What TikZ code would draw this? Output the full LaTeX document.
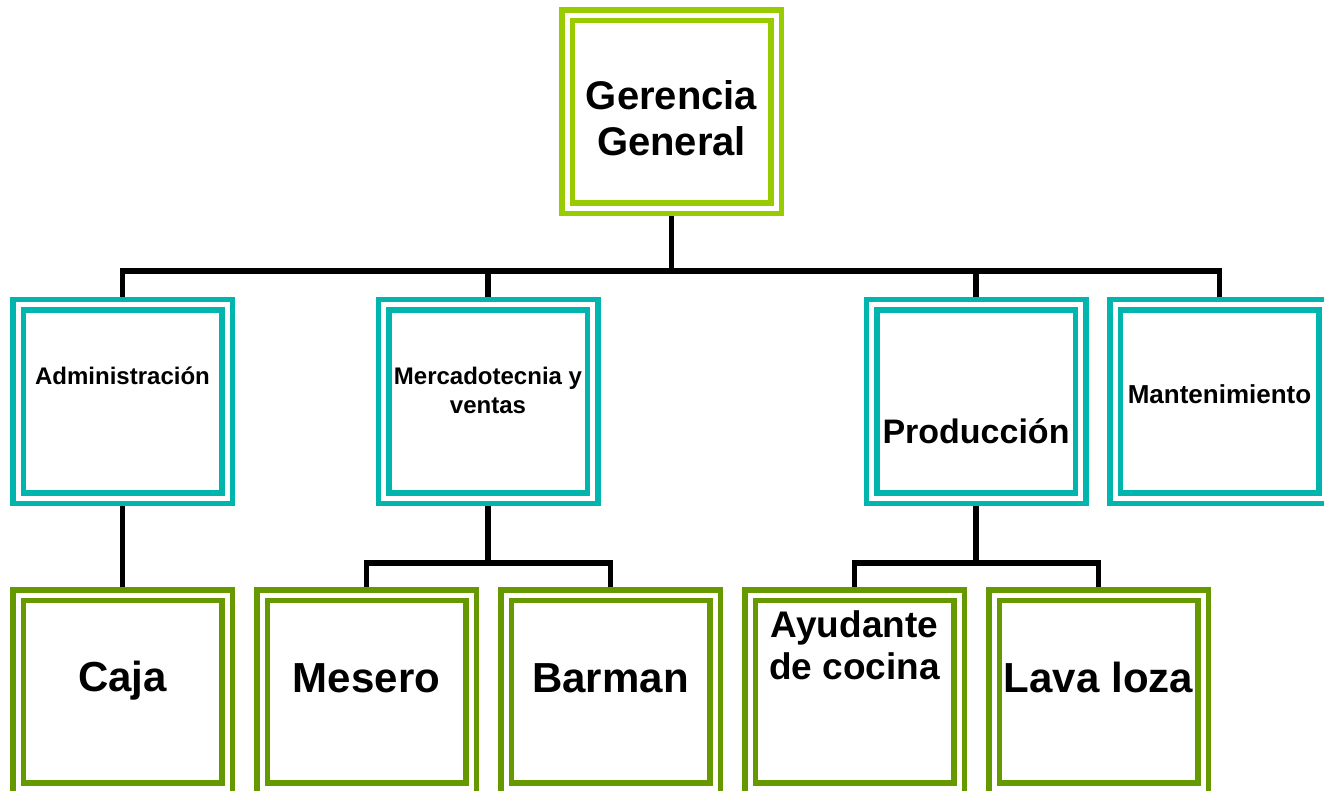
\documentclass[tikz,border=0pt]{standalone}
\usepackage{fontspec}
\setmainfont{Liberation Sans}
\usetikzlibrary{backgrounds}

\definecolor{limegreen}{HTML}{99CC00}
\definecolor{tealline}{HTML}{00B5AD}
\definecolor{olivegreen}{HTML}{669900}

\begin{document}
\begin{tikzpicture}[
    x=0.75pt, y=-0.75pt,
    unitbox/.style={rectangle, draw=#1, double=white, double distance=3.75pt,
                    line width=4.125pt, fill=white, inner sep=0pt, outer sep=0pt,
                    minimum width=156.75pt, minimum height=144.75pt},
    link/.style={line width=4.125pt, line join=miter},
    lbl/.style={anchor=base, align=center, inner sep=0pt, font=\bfseries},
    headtxt/.style={lbl, font=\bfseries\fontsize{30}{34.5}\selectfont},
    areatxt/.style={lbl, font=\bfseries\fontsize{18}{21}\selectfont},
    jobtxt/.style={lbl, font=\bfseries\fontsize{31.5}{36}\selectfont}
  ]
    \useasboundingbox (0,0) rectangle (1324,791);

    %--- Boxes ---
    \node[unitbox=limegreen]  (root)   at (671.5,112)   {};
    \node[unitbox=tealline]   (admin)  at (122.5,401.5) {};
    \node[unitbox=tealline]   (merc)   at (488,401.5)   {};
    \node[unitbox=tealline]   (prod)   at (976,401.5)   {};
    \node[unitbox=tealline]   (mant)   at (1219.5,401.5){};
    \node[unitbox=olivegreen] (caja)   at (122.5,691.5) {};
    \node[unitbox=olivegreen] (mesero) at (366.5,691.5) {};
    \node[unitbox=olivegreen] (barman) at (610.5,691.5) {};
    \node[unitbox=olivegreen] (ayud)   at (854.5,691.5) {};
    \node[unitbox=olivegreen] (lava)   at (1098.5,691.5){};

    %--- Texts (base = last line) ---
    \node[headtxt] (root-t)   at (671.5,156)  {Gerencia\\General};
    \node[areatxt] (admin-t)  at (122.5,385)  {Administración};
    \node[areatxt] (merc-t)   at (488,413)    {Mercadotecnia y\\ventas};
    \node[lbl, font=\bfseries\fontsize{25.5}{30}\selectfont]
                   (prod-t)   at (976,443)    {Producción};
    \node[lbl, font=\bfseries\fontsize{19.5}{23}\selectfont]
                   (mant-t)   at (1219.5,403) {Mantenimiento};
    \node[jobtxt]  (caja-t)   at (122.5,691)  {Caja};
    \node[jobtxt]  (mesero-t) at (366.5,692)  {Mesero};
    \node[jobtxt]  (barman-t) at (610.5,692)  {Barman};
    \node[lbl, font=\bfseries\fontsize{27.75}{31.5}\selectfont]
                   (ayud-t)   at (854.5,679)  {Ayudante\\de cocina};
    \node[jobtxt]  (lava-t)   at (1098.5,692) {Lava loza};

    %--- Connectors ---
    \coordinate (bus1) at (0,271);
    \coordinate (bus2) at (0,563);
    \begin{scope}[on background layer]
      \draw[link] (root.south) -- (root.south |- bus1);
      \draw[link] (admin.north) -- (admin.north |- bus1) -| (mant.north);
      \draw[link] (merc.north) -- (merc.north |- bus1);
      \draw[link] (prod.north) -- (prod.north |- bus1);
      \draw[link] (admin.south) -- (caja.north);
      \draw[link] (merc.south) -- (merc.south |- bus2);
      \draw[link] (mesero.north) -- (mesero.north |- bus2) -| (barman.north);
      \draw[link] (prod.south) -- (prod.south |- bus2);
      \draw[link] (ayud.north) -- (ayud.north |- bus2) -| (lava.north);
    \end{scope}
\end{tikzpicture}
\end{document}
